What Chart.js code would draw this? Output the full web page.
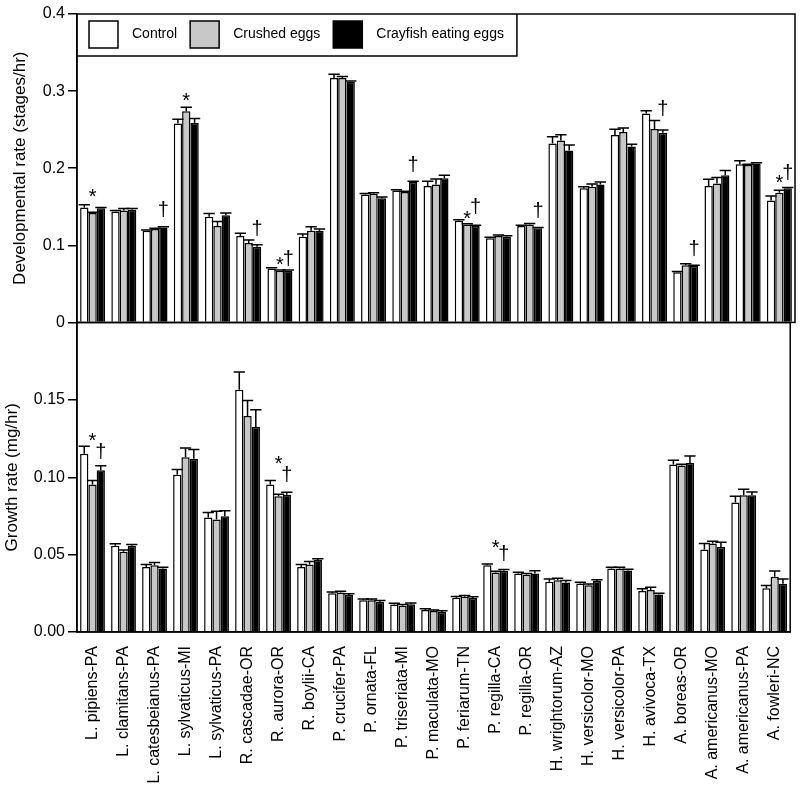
<!DOCTYPE html>
<html>
<head>
<meta charset="utf-8">
<script src="https://cdn.jsdelivr.net/npm/chart.js@4.4.1/dist/chart.umd.min.js"></script>
<style>
  html, body {margin: 0; padding: 0; background: #fff;}
  #page {position: relative; width: 800px; height: 791px;}
  .panel {position: absolute; left: 0; width: 800px;}
  #topPanel {top: 0; height: 335px;}
  #bottomPanel {top: 310px; height: 481px;}
</style>
</head>
<body>
<div id="page">
  <div class="panel" id="topPanel"><canvas id="devChart"></canvas></div>
  <div class="panel" id="bottomPanel"><canvas id="growthChart"></canvas></div>
</div>
<script>
// Categories
const species = [
  `L. pipiens-PA`, `L. clamitans-PA`, `L. catesbeianus-PA`, `L. sylvaticus-MI`, `L. sylvaticus-PA`,
  `R. cascadae-OR`, `R. aurora-OR`, `R. boylii-CA`, `P. crucifer-PA`, `P. ornata-FL`,
  `P. triseriata-MI`, `P. maculata-MO`, `P. feriarum-TN`, `P. regilla-CA`, `P. regilla-OR`,
  `H. wrightorum-AZ`, `H. versicolor-MO`, `H. versicolor-PA`, `H. avivoca-TX`, `A. boreas-OR`,
  `A. americanus-MO`, `A. americanus-PA`, `A. fowleri-NC`
];
const seriesNames = [`Control`, `Crushed eggs`, `Crayfish eating eggs`];

// Developmental rate (stages/hr)
const devControl = [0.149, 0.144, 0.119, 0.258, 0.137, 0.112, 0.070, 0.111, 0.317, 0.166, 0.171, 0.177, 0.132, 0.109, 0.125, 0.232, 0.174, 0.243, 0.271, 0.065, 0.177, 0.205, 0.158];
const devCrushed = [0.142, 0.145, 0.121, 0.274, 0.125, 0.103, 0.067, 0.119, 0.317, 0.167, 0.169, 0.179, 0.127, 0.112, 0.127, 0.236, 0.176, 0.247, 0.251, 0.074, 0.180, 0.204, 0.168];
const devCrayfish = [0.148, 0.146, 0.123, 0.259, 0.139, 0.098, 0.067, 0.119, 0.312, 0.161, 0.182, 0.187, 0.125, 0.111, 0.122, 0.223, 0.179, 0.228, 0.246, 0.073, 0.191, 0.206, 0.174];
const devErrControl = [0.0035, 0.001, 0.001, 0.0056, 0.0043, 0.0035, 0.001, 0.0035, 0.0048, 0.0013, 0.001, 0.006, 0.001, 0.0015, 0.001, 0.0087, 0.002, 0.0074, 0.0035, 0.001, 0.0087, 0.0048, 0.006];
const devErrCrushed = [0.001, 0.0026, 0.001, 0.005, 0.006, 0.004, 0.001, 0.005, 0.002, 0.0013, 0.001, 0.007, 0.001, 0.0015, 0.0013, 0.0074, 0.0035, 0.005, 0.0108, 0.002, 0.0078, 0.001, 0.0035];
const devErrCrayfish = [0.001, 0.0017, 0.001, 0.0056, 0.003, 0.0026, 0.001, 0.002, 0.001, 0.0017, 0.001, 0.004, 0.001, 0.0015, 0.001, 0.007, 0.003, 0.003, 0.0035, 0.001, 0.006, 0.001, 0.001];

// Growth rate (mg/hr)
const growthControl = [0.1153, 0.0557, 0.042, 0.1017, 0.074, 0.1566, 0.0953, 0.042, 0.025, 0.0206, 0.0178, 0.0142, 0.0222, 0.0432, 0.0378, 0.0325, 0.0314, 0.0411, 0.0265, 0.1082, 0.0533, 0.0837, 0.0282];
const growthCrushed = [0.0953, 0.0518, 0.0432, 0.113, 0.0727, 0.1396, 0.0877, 0.0437, 0.0256, 0.0206, 0.017, 0.0135, 0.0228, 0.0385, 0.037, 0.0335, 0.0303, 0.041, 0.0271, 0.1077, 0.0572, 0.0884, 0.0357];
const growthCrayfish = [0.1045, 0.0557, 0.0411, 0.112, 0.0748, 0.1325, 0.0888, 0.0465, 0.0239, 0.0196, 0.018, 0.0129, 0.022, 0.0396, 0.0378, 0.032, 0.0329, 0.0398, 0.0243, 0.1092, 0.055, 0.0884, 0.0312];
const growthErrControl = [0.0047, 0.0013, 0.0017, 0.0033, 0.0032, 0.0114, 0.0027, 0.0017, 0.0008, 0.0008, 0.0008, 0.0008, 0.0008, 0.0008, 0.0008, 0.0017, 0.0008, 0.0008, 0.0015, 0.0028, 0.0039, 0.004, 0.0018];
const growthErrCrushed = [0.0027, 0.0012, 0.0017, 0.006, 0.0053, 0.0101, 0.0013, 0.0018, 0.0008, 0.0008, 0.0008, 0.0008, 0.0008, 0.0008, 0.0008, 0.0013, 0.0008, 0.0008, 0.0019, 0.0008, 0.0015, 0.0039, 0.0037];
const growthErrCrayfish = [0.003, 0.0008, 0.0008, 0.006, 0.0035, 0.0112, 0.0015, 0.0008, 0.0008, 0.0008, 0.0008, 0.0008, 0.0008, 0.0008, 0.0018, 0.0013, 0.0008, 0.0008, 0.0008, 0.0046, 0.003, 0.0021, 0.003];

// Significance marks: [category index, series index, symbol, value level]
const devMarks = [
  [0, 1, `*`, 0.1675], [2, 2, `†`, 0.1468], [3, 1, `*`, 0.292], [5, 2, `†`, 0.122],
  [6, 1, `*`, 0.079], [6, 2, `†`, 0.084], [10, 2, `†`, 0.205], [12, 1, `*`, 0.1398],
  [12, 2, `†`, 0.151], [14, 2, `†`, 0.1455], [18, 2, `†`, 0.278], [19, 2, `†`, 0.096],
  [22, 1, `*`, 0.186], [22, 2, `†`, 0.195]
];
const growthMarks = [
  [0, 1, `*`, 0.126], [0, 2, `†`, 0.1168], [6, 1, `*`, 0.111], [6, 2, `†`, 0.102],
  [13, 1, `*`, 0.0566], [13, 2, `†`, 0.051]
];

const FONT = `'Liberation Sans', Arial, Helvetica, sans-serif`;
const fills = [`#ffffff`, `#c8c8c8`, `#000000`];

Chart.defaults.font.family = FONT;
Chart.defaults.color = `#000`;

const framePlugin = {
  id: `frame`,
  afterDraw(chart) {
    const {ctx, chartArea: {left, right, top, bottom}} = chart;
    ctx.save();
    ctx.strokeStyle = `#000`;
    ctx.lineWidth = 1.5;
    ctx.strokeRect(left, top, right - left, bottom - top);
    ctx.restore();
  }
};

const errorBarPlugin = {
  id: `errorBars`,
  afterDatasetsDraw(chart, args, opts) {
    const {ctx} = chart;
    ctx.save();
    ctx.strokeStyle = `#000`;
    ctx.lineWidth = 1.5;
    chart.data.datasets.forEach((ds, i) => {
      const meta = chart.getDatasetMeta(i);
      const yScale = chart.scales[meta.yAxisID];
      meta.data.forEach((bar, j) => {
        const yTop = yScale.getPixelForValue(ds.data[j] + opts.errors[i][j]);
        const half = bar.width / 2 + 1.5;
        ctx.beginPath();
        ctx.moveTo(bar.x, bar.y);
        ctx.lineTo(bar.x, yTop);
        ctx.moveTo(bar.x - half, yTop);
        ctx.lineTo(bar.x + half, yTop);
        ctx.stroke();
      });
    });
    ctx.restore();
  }
};

const marksPlugin = {
  id: `marks`,
  afterDatasetsDraw(chart, args, opts) {
    const {ctx} = chart;
    ctx.save();
    ctx.fillStyle = `#000`;
    ctx.font = `20px ${FONT}`;
    ctx.textAlign = `center`;
    ctx.textBaseline = `alphabetic`;
    opts.items.forEach(([cat, series, symbol, value]) => {
      const bar = chart.getDatasetMeta(series).data[cat];
      const y = chart.scales.y.getPixelForValue(value);
      const m = ctx.measureText(symbol);
      ctx.fillText(symbol, bar.x, y + (m.actualBoundingBoxAscent - m.actualBoundingBoxDescent) / 2);
    });
    ctx.restore();
  }
};

// legend drawn as a box in the top-left corner of the plot area
const boxLegendPlugin = {
  id: `boxLegend`,
  afterDraw(chart) {
    const {ctx, chartArea: {left, top}} = chart;
    const midY = top + 20.5;
    ctx.save();
    ctx.font = `14px ${FONT}`;
    ctx.textBaseline = `middle`;
    ctx.strokeStyle = `#000`;
    ctx.lineWidth = 1.5;
    let x = left + 12;
    chart.data.datasets.forEach((ds) => {
      ctx.fillStyle = ds.backgroundColor;
      ctx.fillRect(x, midY - 13.5, 29, 27);
      ctx.strokeRect(x, midY - 13.5, 29, 27);
      x += 29 + 14;
      ctx.fillStyle = `#000`;
      ctx.fillText(ds.label, x, midY);
      x += ctx.measureText(ds.label).width + 13;
    });
    ctx.beginPath();
    ctx.moveTo(left, top + 42);
    ctx.lineTo(x, top + 42);
    ctx.lineTo(x, top);
    ctx.stroke();
    ctx.restore();
  }
};

const makeDatasets = (seriesData) => seriesData.map((data, i) => ({
  label: seriesNames[i],
  data,
  backgroundColor: fills[i],
  borderColor: `#000`,
  borderWidth: 1.5,
  barPercentage: 1,
  categoryPercentage: 0.8
}));

const yAxis = (min, max, step, title, titlePad, format) => ({
  min,
  max,
  ticks: {stepSize: step, font: {size: 16}, padding: 3, callback: format},
  grid: {display: true, drawOnChartArea: false, drawTicks: true, tickLength: 9, color: `#000`, lineWidth: 1.5},
  border: {display: true, color: `#000`, width: 1.5},
  title: {display: true, text: title, font: {size: 17}, padding: {top: titlePad, bottom: 0}},
  afterFit: (scale) => {
    scale.width = 77;
  }
});

new Chart(document.getElementById(`devChart`), {
  type: `bar`,
  data: {
    labels: species,
    datasets: makeDatasets([devControl, devCrushed, devCrayfish])
  },
  options: {
    responsive: true,
    maintainAspectRatio: false,
    animation: false,
    layout: {padding: {top: 14, right: 5, bottom: 8, left: 0}},
    scales: {
      x: {display: false},
      y: yAxis(0, 0.4, 0.1, `Developmental rate (stages/hr)`, 10, (v) => (v === 0 ? `0` : v.toFixed(1)))
    },
    plugins: {
      legend: {display: false},
      tooltip: {enabled: false},
      errorBars: {errors: [devErrControl, devErrCrushed, devErrCrayfish]},
      marks: {items: devMarks}
    }
  },
  plugins: [errorBarPlugin, marksPlugin, framePlugin, boxLegendPlugin]
});

new Chart(document.getElementById(`growthChart`), {
  type: `bar`,
  data: {
    labels: species,
    datasets: makeDatasets([growthControl, growthCrushed, growthCrayfish])
  },
  options: {
    responsive: true,
    maintainAspectRatio: false,
    animation: false,
    layout: {padding: {top: 7, right: 5, bottom: 0, left: 0}},
    scales: {
      x: {
        grid: {display: false},
        border: {display: true, color: `#000`, width: 1.5},
        ticks: {font: {size: 16}, minRotation: 90, maxRotation: 90, autoSkip: false, padding: 6},
        afterFit: (scale) => {
          scale.height = 159;
        }
      },
      y: yAxis(0, 0.2, 0.05, `Growth rate (mg/hr)`, 2, (v) => (v > 0.17 ? null : v.toFixed(2)))
    },
    plugins: {
      legend: {display: false},
      tooltip: {enabled: false},
      errorBars: {errors: [growthErrControl, growthErrCrushed, growthErrCrayfish]},
      marks: {items: growthMarks}
    }
  },
  plugins: [errorBarPlugin, marksPlugin, framePlugin]
});
</script>
</body>
</html>
